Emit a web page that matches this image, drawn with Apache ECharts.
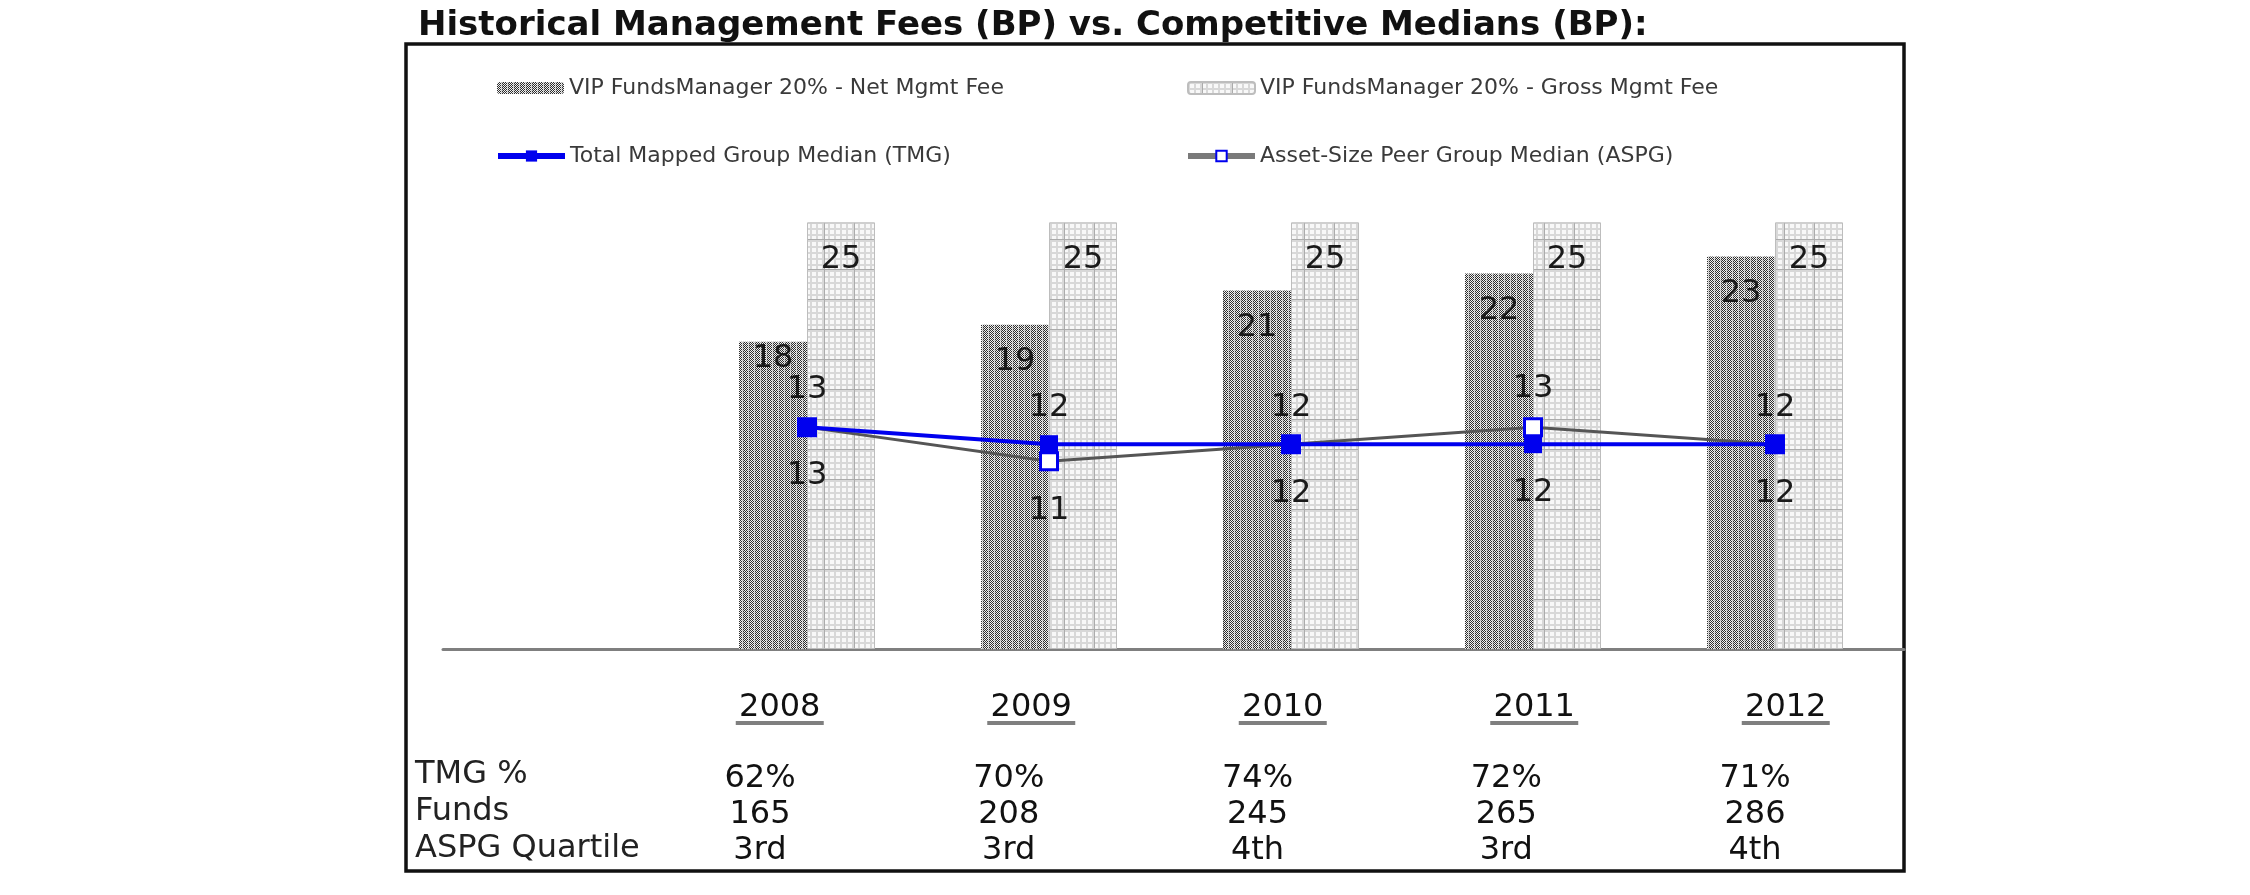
<!DOCTYPE html>
<html>
<head>
<meta charset="utf-8">
<script src="https://cdn.jsdelivr.net/npm/echarts@6/dist/echarts.min.js"></script>
<style>html,body{margin:0;padding:0;background:#fff}#c{width:2250px;height:895px}</style>
</head>
<body>
<div id="c"></div>
<script>
// ---- data ----
const years = ['2008', '2009', '2010', '2011', '2012'];
const netFee = [18, 19, 21, 22, 23];
const grossFee = [25, 25, 25, 25, 25];
const tmgMedian = [13, 12, 12, 12, 12];
const aspgMedian = [13, 11, 12, 13, 12];
const tmgPct = ['62%', '70%', '74%', '72%', '71%'];
const funds = ['165', '208', '245', '265', '286'];
const aspgQuartile = ['3rd', '3rd', '4th', '3rd', '4th'];
const rowLabels = ['TMG %', 'Funds', 'ASPG Quartile'];
const seriesNames = ['VIP FundsManager 20% - Net Mgmt Fee', 'VIP FundsManager 20% - Gross Mgmt Fee',
  'Total Mapped Group Median (TMG)', 'Asset-Size Peer Group Median (ASPG)'];
const titleText = 'Historical Management Fees (BP) vs. Competitive Medians (BP):';

// ---- patterns ----
function netPattern() {
  const c = document.createElement('canvas'); c.width = 12; c.height = 12;
  const g = c.getContext('2d');
  g.fillStyle = '#f2f2f2'; g.fillRect(0, 0, 12, 12);
  for (let y = 0; y < 12; y++) for (let x = 0; x < 12; x++) {
    if ((x + y) % 2 === 0) {
      g.fillStyle = (x % 6 === 4) ? '#b4b4b4' : '#2e2e2e';
      g.fillRect(x, y, 1, 1);
    } else if (x % 6 === 5) {
      g.fillStyle = '#c8c8c8'; g.fillRect(x, y, 1, 1);
    }
  }
  return c;
}
function grossPattern() {
  const c = document.createElement('canvas'); c.width = 30; c.height = 30;
  const g = c.getContext('2d');
  g.fillStyle = '#f8f8f8'; g.fillRect(0, 0, 30, 30);
  g.fillStyle = '#d8d8d8';
  for (let k = 0; k < 30; k += 6) { g.fillRect(k, 0, 2, 30); g.fillRect(0, k, 30, 2); }
  g.fillStyle = '#ababab';
  g.fillRect(14, 0, 1, 30); g.fillRect(0, 29, 30, 1);
  return c;
}

const FONT = 'DejaVu Sans';
const chart = echarts.init(document.getElementById('c'), null, { renderer: 'canvas' });

const gridTop = 137, gridBottom = 246;
const lblStyle = { fontFamily: FONT, fontSize: 32, color: '#1a1a1a' };

const legendBase = {
  orient: 'horizontal', padding: 0, itemWidth: 67, itemHeight: 12,
  textStyle: { fontFamily: FONT, fontSize: 22, color: '#3a3a3a', lineHeight: 24 },
  selectedMode: false
};

const option = {
  animation: false,
  backgroundColor: '#fff',
  title: {
    text: titleText, left: 418, top: 9, padding: 0,
    textStyle: { fontFamily: FONT, fontSize: 34, fontWeight: 'bold', color: '#111' }
  },
  legend: [
    Object.assign({}, legendBase, { left: 497, top: 76, data: [seriesNames[0]] }),
    Object.assign({}, legendBase, { left: 1187, top: 76, data: [seriesNames[1]] }),
    Object.assign({}, legendBase, { left: 495, top: 144, itemHeight: 14, lineStyle: { width: 6 }, data: [seriesNames[2]] }),
    Object.assign({}, legendBase, { left: 1185, top: 144, itemHeight: 13, lineStyle: { width: 6, color: '#7a7a7a' }, data: [seriesNames[3]] })
  ],
  grid: [
    { left: 686, right: 354, top: gridTop, bottom: gridBottom },
    { left: 443, right: 346, top: gridTop, bottom: gridBottom },
    { left: 654, right: 338.5, top: gridTop, bottom: gridBottom },
    { left: 635.6, right: 370.6, top: gridTop, bottom: gridBottom }
  ],
  xAxis: [
    { type: 'category', gridIndex: 0, data: years, axisLine: { show: false }, axisTick: { show: false }, axisLabel: { show: false } },
    { type: 'category', gridIndex: 1, data: years, axisLine: { show: true, lineStyle: { color: '#7f7f7f', width: 3 } }, axisTick: { show: false }, axisLabel: { show: false } },
    { type: 'category', gridIndex: 2, data: years, axisLine: { show: false }, axisTick: { show: false },
      axisLabel: { interval: 0, margin: 45, formatter: v => '{y|' + v + '}\n{u|}',
        rich: { y: { fontFamily: FONT, fontSize: 32, color: '#111', lineHeight: 27, align: 'center' },
                u: { width: 88, height: 4, lineHeight: 4, backgroundColor: '#7f7f7f', align: 'center' } } } },
    { type: 'category', gridIndex: 3, data: years, axisLine: { show: false }, axisTick: { show: false },
      axisLabel: { interval: 0, margin: 112, fontFamily: FONT, fontSize: 32, color: '#111', lineHeight: 36,
        formatter: (v, i) => tmgPct[i] + '\n' + funds[i] + '\n' + aspgQuartile[i] } }
  ],
  yAxis: [0, 1, 2, 3].map(i => ({ type: 'value', gridIndex: i, min: 0, max: 30, show: false, splitLine: { show: false } })),
  graphic: [
    { type: 'rect', z: -1, shape: { x: 406, y: 44, width: 1498, height: 827 }, style: { fill: 'none', stroke: '#111', lineWidth: 3.5 } },
    { type: 'text', left: 415, top: 756, style: { text: rowLabels.join('\n'), fontFamily: FONT, fontSize: 32, lineHeight: 37, fill: '#222' } }
  ],
  series: [
    { name: seriesNames[0], type: 'bar', xAxisIndex: 0, yAxisIndex: 0, barWidth: 68, barGap: '0%',
      itemStyle: { color: { image: netPattern(), repeat: 'repeat' } },
      label: Object.assign({ show: true, position: 'insideTop', distance: 21 }, lblStyle),
      data: netFee.map((v, i) => i === 0 ? { value: v, label: { distance: 1 } } : v) },
    { name: seriesNames[1], type: 'bar', xAxisIndex: 0, yAxisIndex: 0, barWidth: 68, barGap: '0%',
      itemStyle: { color: { image: grossPattern(), repeat: 'repeat' }, borderColor: '#bdbdbd', borderWidth: 1 },
      label: Object.assign({ show: true, position: 'insideTop', distance: 21 }, lblStyle),
      data: grossFee },
    { name: seriesNames[3], type: 'line', xAxisIndex: 0, yAxisIndex: 0, symbol: 'rect', symbolSize: 17,
      lineStyle: { color: '#555', width: 3 },
      itemStyle: { color: '#fff', borderColor: '#0000ee', borderWidth: 3 },
      label: Object.assign({ show: true }, lblStyle),
      data: aspgMedian.map((v, i) => {
        const top = tmgMedian[i] < v;
        return { value: v, label: { position: top ? 'top' : 'bottom', distance: top ? 12 : 23 } };
      }) },
    { name: seriesNames[2], type: 'line', xAxisIndex: 0, yAxisIndex: 0, symbol: 'rect', symbolSize: 18,
      lineStyle: { color: '#0000ee', width: 4 },
      itemStyle: { color: '#0000ee' },
      label: Object.assign({ show: true }, lblStyle),
      data: tmgMedian.map((v, i) => {
        const top = v >= aspgMedian[i];
        return { value: v, label: { position: top ? 'top' : 'bottom', distance: top ? 12 : 23 } };
      }) }
  ]
};
chart.setOption(option);
</script>
</body>
</html>
